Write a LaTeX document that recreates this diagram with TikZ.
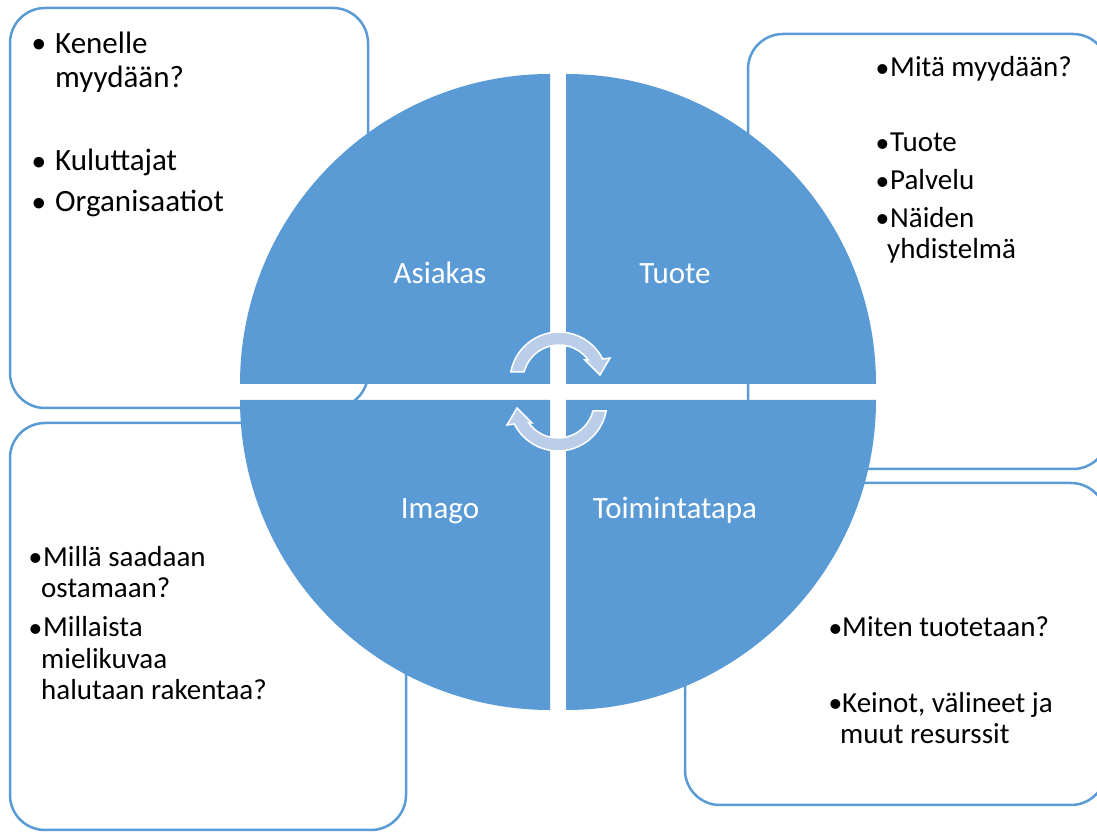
\documentclass[tikz,border=0pt]{standalone}
\usepackage{fontspec}
\setmainfont{Carlito}
\newfontfamily\bulfont{Liberation Sans}
\definecolor{acc}{RGB}{91,155,213}
\definecolor{arrowfill}{RGB}{186,206,234}
\newcommand\bul[1]{\makebox[#1][l]{\bulfont\raisebox{-0.14em}{\scalebox{1.25}{•}}}}
\begin{document}
\begin{tikzpicture}[x=1pt,y=1pt,
  box/.style={draw=acc, line width=2.5pt, fill=white, rounded corners=35pt, inner sep=0pt, outer sep=0pt},
  quad/.style={fill=acc, draw=none},
  lab/.style={anchor=base, text=white, inner sep=0pt, font=\fontsize{31}{37}\selectfont},
  itembig/.style={anchor=base west, inner sep=0pt, align=left, font=\fontsize{31}{34.5}\selectfont},
  item/.style={anchor=base west, inner sep=0pt, align=left, font=\fontsize{29}{31.5}\selectfont},
  cyc/.style={fill=arrowfill, draw=white, line width=1.5pt, line join=miter}]
\clip (0,0) rectangle (1097,832);
\fill[white] (0,0) rectangle (1097,832);
% boxes
\node[box, minimum width=358pt, minimum height=400pt] (tlbox) at (189,624) {};
\node[box, minimum width=360pt, minimum height=435pt] (trbox) at (928,580.5) {};
\node[box, minimum width=396pt, minimum height=407pt] (blbox) at (208,205.5) {};
\node[box, minimum width=421pt, minimum height=322pt] (brbox) at (895.5,188) {};
% quadrants
\path[quad] (550,448) -- ++(-310,0) arc[start angle=180, end angle=90, radius=310] -- cycle;
\path[quad] (566,448) -- ++(0,310) arc[start angle=90, end angle=0, radius=310] -- cycle;
\path[quad] (550,432) -- ++(0,-310) arc[start angle=270, end angle=180, radius=310] -- cycle;
\path[quad] (566,432) -- ++(310,0) arc[start angle=0, end angle=-90, radius=310] -- cycle;
% cycle arrows
\path[cyc] (510.8,460) arc[start angle=169.4, end angle=26.7, radius=49]
  -- (610,474) -- (600,457) -- (585,472) -- (588.2,472)
  arc[start angle=35.7, end angle=165.5, radius=36] -- cycle;
\path[cyc, rotate around={180:(558.5,440.5)}] (510.8,460) arc[start angle=169.4, end angle=26.7, radius=49]
  -- (610,474) -- (600,457) -- (585,472) -- (588.2,472)
  arc[start angle=35.7, end angle=165.5, radius=36] -- cycle;
% labels
\node[lab] (asiakas) at (440,548) {Asiakas};
\node[lab] (tuote) at (675,548) {Tuote};
\node[lab] (imago) at (440,313) {Imago};
\node[lab] (toim) at (675,313) {Toimintatapa};
% top-left text (anchor = baseline of last line)
\node[itembig] (tl1) at (32,744) {\bul{23pt}Kenelle\\\hspace*{23pt}myydään?};
\node[itembig] (tl2) at (32,661) {\bul{23pt}Kuluttajat};
\node[itembig] (tl3) at (32,620) {\bul{23pt}Organisaatiot};
% top-right text
\node[item] (tr1) at (876,755) {\bul{14pt}Mitä myydään?};
\node[item] (tr2) at (876,680) {\bul{14pt}Tuote};
\node[item] (tr3) at (876,642) {\bul{14pt}Palvelu};
\node[item] (tr4) at (876,573) {\bul{14pt}Näiden\\\hspace*{11pt}yhdistelmä};
% bottom-left text
\node[item] (bl1) at (29,234) {\bul{14pt}Millä saadaan\\\hspace*{12pt}ostamaan?};
\node[item] (bl2) at (29,132) {\bul{14pt}Millaista\\\hspace*{12pt}mielikuvaa\\\hspace*{12pt}halutaan rakentaa?};
% bottom-right text
\node[item] (br1) at (829,195) {\bul{13pt}Miten tuotetaan?};
\node[item] (br2) at (829,88) {\bul{13pt}Keinot, välineet ja\\\hspace*{11pt}muut resurssit};
\end{tikzpicture}
\end{document}
